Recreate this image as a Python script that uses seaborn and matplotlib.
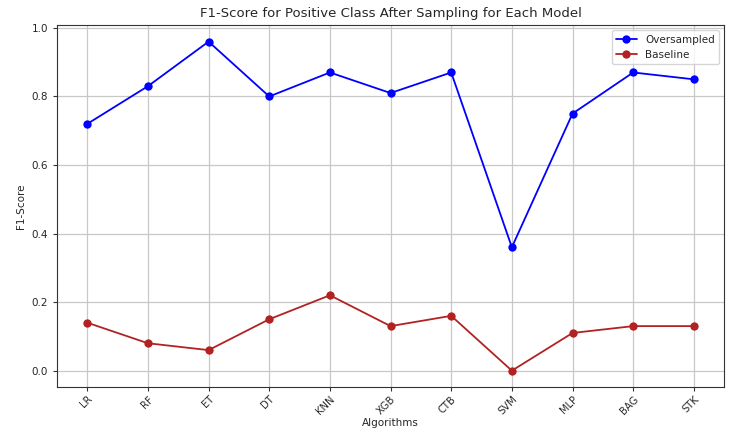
import pandas as pd
import matplotlib
matplotlib.use("Agg")
import matplotlib.pyplot as plt
import seaborn as sns

algorithms = ["LR", "RF", "ET", "DT", "KNN", "XGB", "CTB", "SVM", "MLP", "BAG", "STK"]
oversampled = [0.72, 0.83, 0.96, 0.80, 0.87, 0.81, 0.87, 0.36, 0.75, 0.87, 0.85]
baseline = [0.14, 0.08, 0.06, 0.15, 0.22, 0.13, 0.16, 0.00, 0.11, 0.13, 0.13]

sns.set_style("ticks")
plt.rcParams['font.family'] = ['DejaVu Sans']

df = pd.DataFrame({'Algorithm': algorithms,
                   'Oversampled': oversampled,
                   'Baseline': baseline})

fig, ax = plt.subplots(figsize=(7.3, 4.34), dpi=100)
fig.subplots_adjust(left=0.078, right=0.992, top=0.942, bottom=0.108)

sns.lineplot(x='Algorithm', y='Oversampled', data=df, marker='o', color='blue',
             markersize=6, markeredgewidth=0, linewidth=1.3, sort=False,
             label='Oversampled', ax=ax)
sns.lineplot(x='Algorithm', y='Baseline', data=df, marker='o', color='#b22222',
             markersize=6, markeredgewidth=0, linewidth=1.3, sort=False,
             label='Baseline', ax=ax)

ax.grid(True, color='#c8c8c8', linewidth=0.9)
ax.set_axisbelow(True)
ax.set_xlim(-0.5, 10.5)
ax.set_ylim(-0.048, 1.008)
ax.set_yticks([0.0, 0.2, 0.4, 0.6, 0.8, 1.0])

plt.xticks(rotation=45, ha='right', fontsize=7.2)
plt.yticks(fontsize=7.5)
for lab in ax.get_xticklabels():
    lab.set_rotation_mode('anchor')
ax.tick_params(length=3, color='#333333')
ax.tick_params(axis='x', pad=2)
for s in ax.spines.values():
    s.set_color('#333333')

ax.set_title('F1-Score for Positive Class After Sampling for Each Model', fontsize=9.5)
ax.set_xlabel('Algorithms', fontsize=7.5, labelpad=1)
ax.set_ylabel('F1-Score', fontsize=7.5)
ax.legend(loc='upper right', fontsize=7.5)

fig.savefig('out.png', dpi=100)
